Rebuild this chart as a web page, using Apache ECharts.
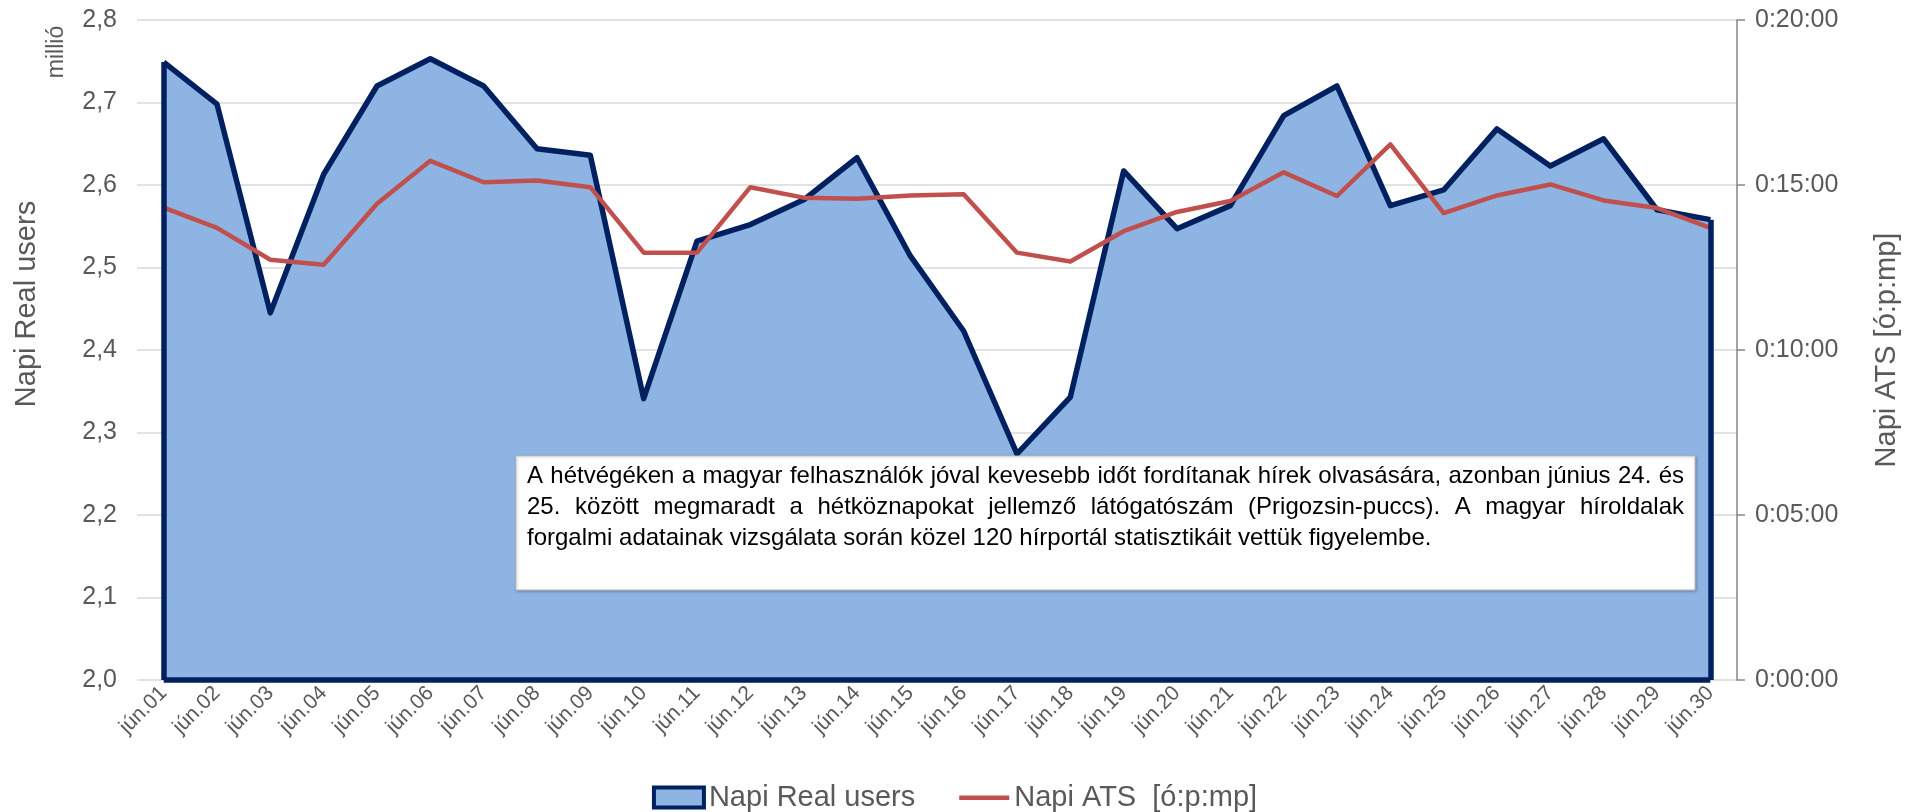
<!DOCTYPE html>
<html>
<head>
<meta charset="utf-8">
<title>Napi Real users és ATS</title>
<script src="https://cdn.jsdelivr.net/npm/echarts@6/dist/echarts.min.js"></script>
<style>
  html, body { margin: 0; padding: 0; background: #fff; overflow: hidden; }
  #chart { width: 1909px; height: 812px; }
</style>
</head>
<body>
<div id="chart"></div>
<script>
// napok
const days = [
  'jún.01', 'jún.02', 'jún.03', 'jún.04', 'jún.05', 'jún.06', 'jún.07', 'jún.08', 'jún.09', 'jún.10',
  'jún.11', 'jún.12', 'jún.13', 'jún.14', 'jún.15', 'jún.16', 'jún.17', 'jún.18', 'jún.19', 'jún.20',
  'jún.21', 'jún.22', 'jún.23', 'jún.24', 'jún.25', 'jún.26', 'jún.27', 'jún.28', 'jún.29', 'jún.30'
];
// napi real users, millió
const realUsers = [
  2.749, 2.698, 2.445, 2.613, 2.720, 2.753, 2.720, 2.644, 2.636, 2.341,
  2.532, 2.552, 2.582, 2.633, 2.514, 2.423, 2.274, 2.343, 2.617, 2.547,
  2.575, 2.684, 2.720, 2.575, 2.594, 2.668, 2.623, 2.656, 2.570, 2.558
];
// napi ATS, másodperc
const atsSeconds = [
  859, 822, 764, 755, 866, 944, 905, 908, 896, 777,
  777, 896, 877, 875, 881, 883, 777, 761, 816, 851,
  871, 923, 880, 974, 849, 881, 901, 872, 858, 822
];
const noteLines = [
  'A hétvégéken a magyar felhasználók jóval kevesebb időt fordítanak hírek olvasására, azonban június 24. és',
  '25. között megmaradt a hétköznapokat jellemző látógatószám (Prigozsin-puccs). A magyar híroldalak',
  'forgalmi adatainak vizsgálata során közel 120 hírportál statisztikáit vettük figyelembe.'
];

const FONT = '"Liberation Sans", Arial, sans-serif';
const pad2 = n => String(n).padStart(2, '0');
const fmtTime = v => `${Math.floor(v / 3600)}:${pad2(Math.floor((v % 3600) / 60))}:${pad2(v % 60)}`;

// szövegdoboz: sorkizárt sorok, szavanként
const box = { x: 516, y: 456, w: 1179, h: 134, padX: 11, top: 20, lineH: 31 };
const noteFont = '24px ' + FONT;
const measure = document.createElement('canvas').getContext('2d');
measure.font = noteFont;
function noteElements() {
  const els = [];
  const innerW = box.w - 2 * box.padX;
  noteLines.forEach((line, i) => {
    const y = box.y + box.top + i * box.lineH;
    const justify = i < noteLines.length - 1;
    const words = line.split(' ');
    if (!justify) {
      els.push({ type: 'text', z: 21, x: box.x + box.padX, y,
        style: { text: line, font: noteFont, fill: '#000', verticalAlign: 'middle' } });
      return;
    }
    const widths = words.map(w => measure.measureText(w).width);
    const total = widths.reduce((a, b) => a + b, 0);
    const gap = (innerW - total) / (words.length - 1);
    let x = box.x + box.padX;
    words.forEach((w, k) => {
      els.push({ type: 'text', z: 21, x, y,
        style: { text: w, font: noteFont, fill: '#000', verticalAlign: 'middle' } });
      x += widths[k] + gap;
    });
  });
  return els;
}

const chart = echarts.init(document.getElementById('chart'));

const last = days.length - 1;
const edgeLines = [
  [{ coord: [days[0], 2.0] }, { coord: [days[0], realUsers[0]] }],
  [{ coord: [days[last], 2.0] }, { coord: [days[last], realUsers[last]] }],
  [{ coord: [days[0], 2.0] }, { coord: [days[last], 2.0] }]
];

chart.setOption({
  animation: false,
  textStyle: { fontFamily: FONT },
  grid: { left: 137, right: 146, top: 20, bottom: 132, containLabel: false },
  legend: {
    top: 778,
    left: 'center',
    itemWidth: 50,
    itemHeight: 20,
    itemGap: 44,
    textStyle: { fontSize: 29, color: '#595959', fontFamily: FONT },
    data: [
      { name: 'Napi Real users', icon: 'rect',
        itemStyle: { color: '#8eb4e3', borderColor: '#002060', borderWidth: 4 } },
      { name: 'Napi ATS  [ó:p:mp]',
        icon: 'path://M0,0 L0.1,0 L0.1,0.1 Z M0,8 L50,8 L50,12.5 L0,12.5 Z M49.9,19.9 L50,19.9 L50,20 Z',
        itemStyle: { color: '#c0504d' } }
    ]
  },
  xAxis: {
    type: 'category',
    data: days,
    boundaryGap: true,
    axisLine: { show: false },
    axisTick: { show: false },
    axisLabel: { rotate: 45, fontSize: 21, color: '#595959', margin: 10, interval: 0 }
  },
  yAxis: [
    {
      type: 'value',
      min: 2.0,
      max: 2.8,
      interval: 0.1,
      axisLine: { show: false },
      axisTick: { show: false },
      axisLabel: { fontSize: 25, color: '#595959', margin: 20,
        formatter: v => v.toFixed(1).replace('.', ',') },
      splitLine: { lineStyle: { color: '#d9d9d9', width: 1.5 } }
    },
    {
      type: 'value',
      min: 0,
      max: 1200,
      interval: 300,
      position: 'right',
      name: 'Napi ATS [ó:p:mp]',
      nameLocation: 'middle',
      nameRotate: 90,
      nameGap: 135,
      nameTextStyle: { fontSize: 29, color: '#595959' },
      axisLine: { show: true, lineStyle: { color: '#868686', width: 1.5 } },
      axisTick: { show: true, length: 8, lineStyle: { color: '#868686', width: 1.5 } },
      axisLabel: { fontSize: 25, color: '#595959', margin: 18, formatter: fmtTime },
      splitLine: { show: false }
    }
  ],
  series: [
    {
      name: 'Napi Real users',
      type: 'line',
      yAxisIndex: 0,
      data: realUsers,
      symbol: 'none',
      lineStyle: { color: '#002060', width: 5.5, join: 'round' },
      itemStyle: { color: '#8eb4e3' },
      areaStyle: { color: '#8eb4e3', opacity: 1, origin: 'start' },
      markLine: {
        silent: true,
        symbol: ['none', 'none'],
        label: { show: false },
        lineStyle: { color: '#002060', width: 5.5, type: 'solid' },
        data: edgeLines
      },
      z: 2
    },
    {
      name: 'Napi ATS  [ó:p:mp]',
      type: 'line',
      yAxisIndex: 1,
      data: atsSeconds,
      symbol: 'none',
      lineStyle: { color: '#c0504d', width: 4.5, join: 'round' },
      itemStyle: { color: '#c0504d' },
      z: 3
    }
  ],
  graphic: [
    {
      type: 'text', x: 27, y: 304, rotation: Math.PI / 2, z: 10,
      style: { text: 'Napi Real users', font: '29px ' + FONT, fill: '#595959',
        align: 'center', verticalAlign: 'middle' }
    },
    {
      type: 'text', x: 57, y: 52, rotation: Math.PI / 2, z: 10,
      style: { text: 'millió', font: '23px ' + FONT, fill: '#595959',
        align: 'center', verticalAlign: 'middle' }
    },
    {
      type: 'group', z: 20,
      children: [
        {
          type: 'rect', z: 20,
          shape: { x: box.x, y: box.y, width: box.w, height: box.h },
          style: { fill: '#ffffff', stroke: '#bfbfbf', lineWidth: 1,
            shadowBlur: 3, shadowColor: 'rgba(0,0,0,0.25)', shadowOffsetX: 1, shadowOffsetY: 1 }
        }
      ].concat(noteElements())
    }
  ]
});
</script>
</body>
</html>
